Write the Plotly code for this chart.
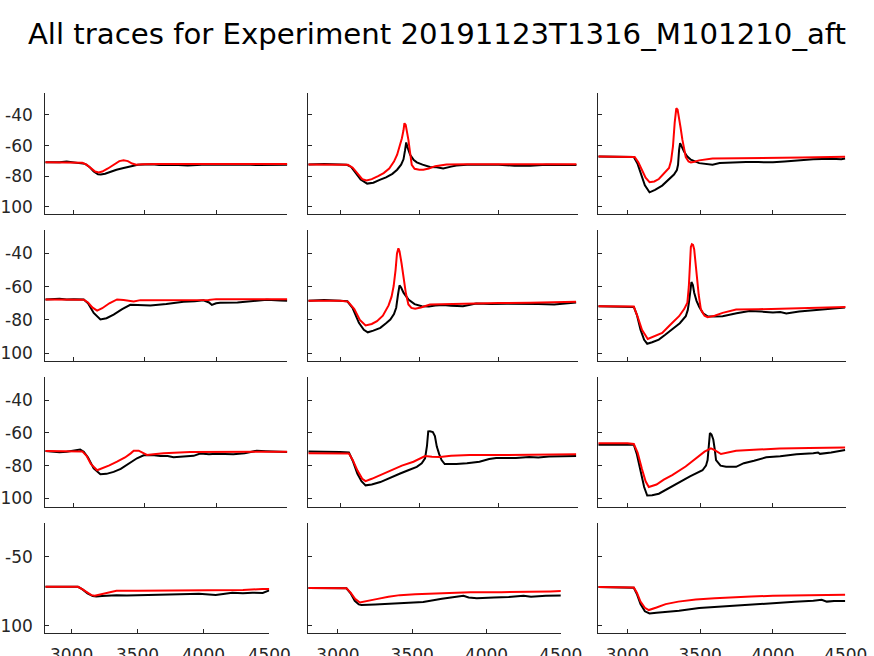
import plotly.graph_objects as go

# ---------------- data ----------------
# Row 1
r1c1_bx = [2800, 2900, 2950, 3000, 3050, 3080, 3110, 3140, 3170, 3190, 3220, 3260, 3300, 3350, 3400, 3450, 3500, 3550, 3600, 3700, 3800, 3900, 4000, 4100, 4200, 4300, 4400, 4500]
r1c1_by = [-71, -71, -70.5, -71, -71.5, -72, -74, -77, -78.8, -79, -78.5, -77, -75.8, -74.7, -73.5, -72.6, -72.4, -72.2, -72.8, -72.6, -73, -72.5, -72.6, -72.5, -72.4, -72.8, -72.5, -72.5]
r1c1_rx = [2800, 2900, 3000, 3060, 3090, 3120, 3150, 3175, 3200, 3240, 3280, 3320, 3350, 3380, 3410, 3440, 3480, 3530, 3600, 3800, 4000, 4200, 4500]
r1c1_ry = [-71, -71, -71, -71.3, -72.5, -75, -77, -77.6, -77, -75, -72.5, -70.2, -69.7, -70.2, -71.8, -72.5, -72.3, -72, -72, -72, -72, -72, -72]

r1c2_bx = [2800, 2900, 3000, 3040, 3070, 3100, 3130, 3171, 3210, 3250, 3290, 3330, 3360, 3385, 3400, 3410, 3417, 3425, 3442, 3465, 3484, 3520, 3567, 3610, 3650, 3700, 3733, 3800, 3900, 4000, 4100, 4200, 4300, 4400, 4490]
r1c2_by = [-72.4, -72, -72.4, -72.5, -74, -78, -82.3, -84.9, -84.3, -82.5, -80.8, -78.5, -75.8, -72.5, -69, -63, -58, -61, -66, -69.5, -71, -72.5, -74, -74.2, -75, -73.8, -73, -72.6, -72.4, -72.6, -73.2, -73.2, -72.6, -72.7, -72.7]
r1c2_rx = [2800, 3000, 3050, 3080, 3110, 3140, 3167, 3200, 3240, 3275, 3310, 3340, 3360, 3375, 3390, 3400, 3406, 3414, 3422, 3431, 3442, 3452, 3470, 3500, 3525, 3560, 3600, 3671, 3800, 4000, 4200, 4490]
r1c2_ry = [-72.4, -72.4, -72.6, -74.5, -78.5, -82, -82.8, -82, -80, -78, -75, -70.5, -66, -61, -55.2, -50, -45.4, -46.5, -51, -56.3, -65, -72.6, -75.2, -75.8, -75.8, -75, -73.5, -72.4, -72.3, -72.3, -72.3, -72.3]

r1c3_bx = [2800, 2900, 3000, 3044, 3070, 3090, 3120, 3152, 3190, 3239, 3280, 3320, 3340, 3348, 3355, 3362, 3375, 3389, 3410, 3436, 3493, 3540, 3585, 3634, 3700, 3816, 3900, 4000, 4080, 4162, 4277, 4400, 4470, 4496]
r1c3_by = [-67.1, -67.1, -67.1, -67.5, -72, -78, -86, -90.6, -89, -86.2, -82.5, -79, -76, -72.6, -63, -58.5, -61, -63.9, -67, -69.3, -71.5, -72, -72.6, -71.5, -71.2, -70.8, -70.8, -71, -70.5, -69.7, -68.9, -68.6, -69, -68.5]
r1c3_rx = [2800, 3000, 3050, 3075, 3100, 3125, 3152, 3185, 3216, 3250, 3286, 3300, 3313, 3325, 3336, 3345, 3355, 3365, 3378, 3390, 3401, 3420, 3436, 3460, 3493, 3585, 3800, 4000, 4200, 4496]
r1c3_ry = [-67.1, -67.1, -67.5, -71, -75.8, -81, -84, -83.5, -81.9, -78.5, -74.7, -70, -60.6, -45, -35.6, -36.5, -41.1, -48, -56.3, -63, -67.5, -70.4, -71, -70.6, -69.7, -68.5, -68.4, -68.2, -67.8, -67.4]

# Row 2
r2c1_bx = [2800, 2900, 2950, 3000, 3070, 3100, 3140, 3187, 3230, 3280, 3340, 3397, 3450, 3538, 3650, 3771, 3850, 3911, 3950, 3970, 4000, 4028, 4150, 4262, 4356, 4450, 4500]
r2c1_by = [-67.7, -67.3, -67.7, -67.5, -67.7, -70, -75.8, -79.8, -79, -76.8, -73.5, -70.9, -71, -71.3, -70.5, -69.1, -68.8, -68.2, -69.5, -71, -70, -69.7, -69.5, -68.5, -67.9, -68.3, -68.5]
r2c1_rx = [2800, 3000, 3070, 3100, 3130, 3164, 3200, 3250, 3304, 3350, 3385, 3421, 3468, 3600, 3800, 3946, 4000, 4200, 4500]
r2c1_ry = [-67.7, -67.7, -67.8, -69.5, -72.5, -74.4, -73, -70, -67.7, -68, -68.3, -68.9, -68.1, -68.1, -68, -68, -67.5, -67.5, -67.5]

r2c2_bx = [2800, 2900, 3000, 3046, 3080, 3119, 3150, 3175, 3210, 3254, 3290, 3317, 3340, 3354, 3365, 3375, 3385, 3400, 3431, 3470, 3515, 3560, 3600, 3650, 3700, 3775, 3858, 3950, 4050, 4150, 4250, 4350, 4420, 4488]
r2c2_by = [-68.5, -68, -68.5, -68.8, -73, -81.8, -86, -87.5, -86.5, -84.8, -82, -79.8, -76.5, -72.7, -65, -59.2, -60.5, -63.6, -67.7, -70.5, -71.8, -72, -71.3, -71, -71.5, -71.8, -70.2, -70.5, -70.3, -70.3, -70.5, -70.8, -70, -69.5]
r2c2_rx = [2800, 3000, 3050, 3090, 3125, 3161, 3200, 3233, 3270, 3306, 3325, 3338, 3350, 3359, 3368, 3375, 3388, 3400, 3415, 3431, 3450, 3473, 3510, 3567, 3700, 3817, 4000, 4200, 4400, 4488]
r2c2_ry = [-68.5, -68.5, -69, -73.5, -80, -83.4, -82.5, -80.8, -77.5, -71.3, -66, -59.6, -50, -40, -36.8, -38.6, -46, -55.6, -64, -70.7, -72.8, -73.3, -72.5, -70.7, -70.4, -69.9, -69.8, -69.7, -69.5, -69.1]

r2c3_bx = [2800, 2900, 3000, 3044, 3065, 3090, 3115, 3136, 3170, 3216, 3260, 3308, 3360, 3401, 3415, 3424, 3432, 3440, 3450, 3459, 3475, 3493, 3520, 3551, 3600, 3654, 3750, 3839, 3920, 4000, 4050, 4092, 4180, 4277, 4400, 4496]
r2c3_by = [-71.8, -71.8, -71.8, -72.2, -77, -85.9, -92, -94.4, -93.5, -91.9, -89, -85.9, -82, -77.8, -74, -68.7, -62, -57.2, -59, -63.6, -68.5, -72.1, -76, -77.8, -78, -77.8, -76, -74.6, -75, -75.6, -75.3, -76.2, -75, -74.2, -73.2, -72.5]
r2c3_rx = [2800, 3000, 3044, 3070, 3100, 3140, 3180, 3239, 3300, 3355, 3390, 3412, 3422, 3429, 3436, 3443, 3451, 3459, 3467, 3475, 3490, 3505, 3530, 3551, 3600, 3654, 3700, 3747, 3900, 4100, 4300, 4500]
r2c3_ry = [-71.8, -71.8, -72, -78, -86, -91.5, -90, -87.9, -82.5, -77.8, -73.5, -69.7, -60, -43.5, -36, -34.4, -34.8, -37.5, -45, -53.6, -65, -73.8, -77.5, -78.4, -77.5, -75.8, -74.8, -73.8, -73.6, -73.3, -73, -72.3]

# Row 3
r3c1_bx = [2800, 2860, 2900, 2950, 3000, 3030, 3045, 3070, 3100, 3140, 3187, 3230, 3280, 3330, 3374, 3410, 3444, 3491, 3550, 3608, 3660, 3701, 3780, 3842, 3888, 3950, 4000, 4121, 4200, 4285, 4350, 4420, 4500]
r3c1_by = [-71, -71.3, -71.8, -71.5, -71, -70.8, -70.2, -71.5, -75, -81.7, -85.2, -85, -83.8, -82, -79.7, -77.5, -75.5, -73.7, -73.5, -74.1, -74.1, -74.8, -74.4, -74, -72.6, -73, -72.8, -73, -72.5, -70.9, -71.2, -71.3, -71.7]
r3c1_rx = [2800, 3000, 3060, 3090, 3120, 3164, 3200, 3250, 3304, 3360, 3400, 3421, 3456, 3490, 3514, 3560, 3631, 3818, 4000, 4200, 4500]
r3c1_ry = [-71, -71, -71.3, -74, -79, -82.8, -81.7, -79.8, -77.6, -75, -72.5, -70.9, -70.9, -72.7, -73.5, -73, -72.4, -71.7, -71.7, -71.6, -71.5]

r3c2_bx = [2800, 2900, 2950, 3000, 3056, 3080, 3109, 3135, 3161, 3200, 3254, 3320, 3379, 3430, 3484, 3515, 3536, 3548, 3556, 3567, 3585, 3598, 3610, 3625, 3640, 3660, 3733, 3800, 3879, 3940, 3984, 4050, 4108, 4192, 4250, 4317, 4400, 4488]
r3c2_by = [-71.3, -71.3, -71.7, -71.7, -72, -77, -84.8, -89.5, -92, -91.5, -90, -87.5, -84.8, -82.8, -80.7, -78.5, -75.5, -68, -59.1, -59, -59.5, -62, -68.4, -73, -76.6, -79, -79, -78.5, -77.6, -76, -75.3, -75.3, -75.3, -74.7, -75, -74.4, -74.3, -74.1]
r3c2_rx = [2800, 3000, 3056, 3080, 3110, 3140, 3161, 3200, 3260, 3317, 3390, 3463, 3500, 3536, 3580, 3630, 3700, 3817, 4000, 4200, 4400, 4488]
r3c2_ry = [-72.5, -72.5, -72.6, -76.5, -83, -88, -89.4, -88, -85.5, -82.8, -80, -77.6, -75.8, -74.1, -74.5, -74.7, -74, -73.5, -73.5, -73.4, -73.1, -73.1]

r3c3_bx = [2800, 2900, 3000, 3044, 3065, 3090, 3115, 3136, 3170, 3216, 3280, 3355, 3430, 3516, 3540, 3551, 3560, 3567, 3578, 3590, 3600, 3609, 3640, 3678, 3747, 3800, 3870, 3954, 4050, 4162, 4277, 4310, 4323, 4400, 4496]
r3c3_by = [-67.2, -67.2, -66.9, -67.2, -73, -82.8, -93, -98.2, -98, -97.1, -94, -90, -86.5, -82.8, -80, -76.6, -68, -60.1, -61, -64, -70, -76.6, -80, -80.7, -80.7, -78.5, -77, -74.9, -74.2, -73, -72.4, -72, -72.8, -72, -70.5]
r3c3_rx = [2800, 3000, 3044, 3070, 3100, 3125, 3147, 3200, 3250, 3308, 3400, 3470, 3530, 3574, 3600, 3643, 3700, 3747, 3900, 4046, 4250, 4496]
r3c3_ry = [-66.3, -66.3, -66.8, -72, -82, -89.5, -93, -91.5, -88.5, -85.8, -80.5, -75.5, -71.5, -69.4, -70.5, -72.9, -71.8, -70.9, -70.2, -69.5, -69.2, -68.9]

# Row 4
r4c1_bx = [2800, 3000, 3048, 3080, 3120, 3160, 3187, 3230, 3280, 3340, 3420, 3510, 3600, 3713, 3800, 3900, 3966, 4050, 4093, 4150, 4219, 4300, 4371, 4450, 4500]
r4c1_by = [-71.7, -71.7, -71.8, -73.5, -76.5, -78.5, -78.8, -78.5, -78.2, -77.9, -78, -77.9, -77.5, -77.2, -77.3, -77, -76.8, -77.2, -77.7, -77, -76.1, -76.5, -76.1, -76.2, -74.4]
r4c1_rx = [2800, 3000, 3048, 3080, 3120, 3150, 3175, 3220, 3280, 3340, 3500, 3660, 3700, 4000, 4300, 4447, 4500]
r4c1_ry = [-71.7, -71.7, -71.8, -73.5, -76.2, -77.8, -78.3, -77.2, -75.8, -74.6, -74.6, -74.6, -74.1, -74.1, -74.1, -73.3, -73.3]

r4c2_bx = [2800, 3000, 3057, 3085, 3113, 3140, 3158, 3250, 3349, 3450, 3574, 3700, 3845, 3880, 3935, 4050, 4150, 4250, 4300, 4400, 4503]
r4c2_by = [-72.7, -72.7, -72.9, -76.5, -81.9, -84.5, -85, -84.5, -83.8, -83.3, -82.7, -80.5, -78.3, -79.5, -80, -79.5, -79.2, -78.3, -79, -78.3, -78]
r4c2_rx = [2800, 3000, 3057, 3085, 3115, 3147, 3200, 3259, 3340, 3417, 3520, 3620, 3750, 3890, 4100, 4300, 4430, 4503]
r4c2_ry = [-72.7, -72.7, -72.9, -76, -80.5, -83.1, -82.2, -80.7, -79, -77.8, -77.2, -76.8, -76.3, -75.8, -75.7, -75.6, -75.1, -74.9]

r4c3_bx = [2800, 2950, 3000, 3044, 3065, 3090, 3120, 3152, 3200, 3260, 3355, 3493, 3650, 3816, 3950, 4046, 4150, 4277, 4335, 4370, 4420, 4496]
r4c3_by = [-72, -72, -72.2, -72.5, -77, -84.3, -89.5, -91.1, -90.5, -90, -89.1, -87.2, -86, -84.8, -83.8, -83.1, -82.6, -81.8, -81.1, -82.5, -82, -82]
r4c3_rx = [2800, 3000, 3044, 3065, 3090, 3120, 3147, 3200, 3263, 3350, 3470, 3600, 3700, 3850, 4000, 4250, 4496]
r4c3_ry = [-72, -72, -72.2, -76, -82.5, -87, -88.6, -86.8, -84.3, -82.5, -81, -80, -79.4, -78.8, -78.3, -77.9, -77.6]

x_tickvals = [3000, 3500, 4000, 4500]
x_ticktext = ["3000", "3500", "4000", "4500"]
y_tickvals_top = [-100, -80, -60, -40]
y_ticktext_top = ["-100", "-80", "-60", "-40"]
y_tickvals_bottom = [-100, -50]
y_ticktext_bottom = ["-100", "-50"]

panels = {
    (1, 1): (r1c1_bx, r1c1_by, r1c1_rx, r1c1_ry),
    (1, 2): (r1c2_bx, r1c2_by, r1c2_rx, r1c2_ry),
    (1, 3): (r1c3_bx, r1c3_by, r1c3_rx, r1c3_ry),
    (2, 1): (r2c1_bx, r2c1_by, r2c1_rx, r2c1_ry),
    (2, 2): (r2c2_bx, r2c2_by, r2c2_rx, r2c2_ry),
    (2, 3): (r2c3_bx, r2c3_by, r2c3_rx, r2c3_ry),
    (3, 1): (r3c1_bx, r3c1_by, r3c1_rx, r3c1_ry),
    (3, 2): (r3c2_bx, r3c2_by, r3c2_rx, r3c2_ry),
    (3, 3): (r3c3_bx, r3c3_by, r3c3_rx, r3c3_ry),
    (4, 1): (r4c1_bx, r4c1_by, r4c1_rx, r4c1_ry),
    (4, 2): (r4c2_bx, r4c2_by, r4c2_rx, r4c2_ry),
    (4, 3): (r4c3_bx, r4c3_by, r4c3_rx, r4c3_ry),
}

# ---------------- layout geometry (pixels -> paper) ----------------
W, H = 874, 656
col_px = {1: (45.3, 287.3), 2: (308.3, 578.0), 3: (598.3, 845.7)}
col_px_last = {1: (45.3, 269.3), 2: (308.3, 560.7), 3: (598.3, 845.7)}
row_px = {1: (93.3, 214.3), 2: (230.0, 361.3), 3: (376.7, 506.7), 4: (523.3, 632.7)}

AX = "#262626"
FONT = "DejaVu Sans"

fig = go.Figure()
layout = {}
for (r, c), (bx, by, rx, ry) in panels.items():
    idx = (r - 1) * 3 + c
    xs = "x" if idx == 1 else f"x{idx}"
    ys = "y" if idx == 1 else f"y{idx}"
    fig.add_trace(go.Scatter(x=bx, y=by, mode="lines", line=dict(color="#000000", width=2),
                             xaxis=xs, yaxis=ys, showlegend=False, hoverinfo="skip"))
    fig.add_trace(go.Scatter(x=rx, y=ry, mode="lines", line=dict(color="#ff0000", width=2),
                             xaxis=xs, yaxis=ys, showlegend=False, hoverinfo="skip"))
    cx = col_px_last[c] if r == 4 else col_px[c]
    ry0, ry1 = row_px[r]
    xname = "xaxis" if idx == 1 else f"xaxis{idx}"
    yname = "yaxis" if idx == 1 else f"yaxis{idx}"
    layout[xname] = dict(
        domain=[cx[0] / W, cx[1] / W], range=[2800, 4500], anchor=ys,
        tickmode="array", tickvals=x_tickvals, ticktext=x_ticktext,
        ticks="inside", ticklen=4, tickcolor=AX, tickwidth=1,
        showline=True, linecolor=AX, linewidth=1, showgrid=False, zeroline=False,
        showticklabels=(r == 4), ticklabelstandoff=7, automargin=False,
        tickfont=dict(family=FONT, size=17, color=AX),
    )
    tv = y_tickvals_bottom if r == 4 else y_tickvals_top
    tt = y_ticktext_bottom if r == 4 else y_ticktext_top
    layout[yname] = dict(
        domain=[1 - ry1 / H, 1 - ry0 / H], range=[-105, -25.8], anchor=xs,
        tickmode="array", tickvals=tv, ticktext=tt,
        ticks="inside", ticklen=4, tickcolor=AX, tickwidth=1,
        showline=True, linecolor=AX, linewidth=1, showgrid=False, zeroline=False,
        showticklabels=(c == 1), ticklabelstandoff=8, automargin=False,
        tickfont=dict(family=FONT, size=17, color=AX),
    )

fig.update_layout(
    template="none",
    width=W, height=H, autosize=False,
    margin=dict(l=0, r=0, t=0, b=0, autoexpand=False),
    paper_bgcolor="white", plot_bgcolor="white",
    title=dict(text="All traces for Experiment 20191123T1316_M101210_aft",
               x=0.5, xanchor="center", xref="container", y=1 - 34 / H, yanchor="middle",
               yref="container", automargin=False,
               font=dict(family=FONT, size=29.2, color="#000000")),
    **layout,
)

fig.write_html("out.html", config={"displayModeBar": False},
               post_script="document.body.style.margin='0';document.body.style.padding='0';")
